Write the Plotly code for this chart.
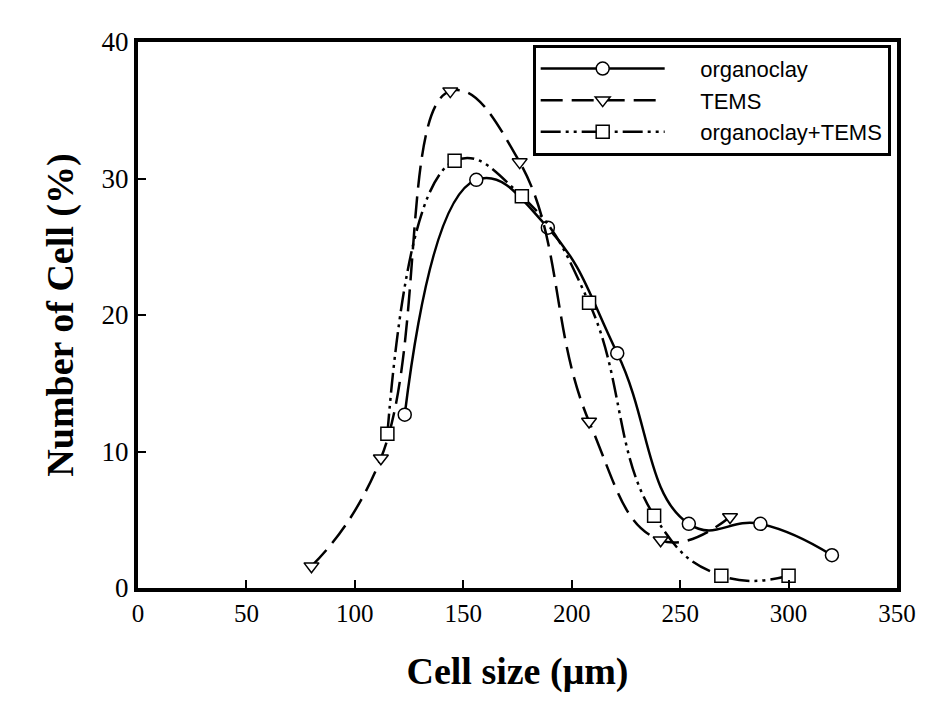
import plotly.graph_objects as go

# organoclay
oc_x = [123, 156, 189, 221, 254, 287, 320]
oc_y = [12.7, 29.9, 26.4, 17.2, 4.7, 4.7, 2.4]
# TEMS
tems_x = [80, 112, 144, 176, 208, 241, 273]
tems_y = [1.6, 9.5, 36.4, 31.2, 12.2, 3.5, 5.2]
# organoclay+TEMS
oct_x = [115, 146, 177, 208, 238, 269, 300]
oct_y = [11.3, 31.3, 28.7, 20.9, 5.3, 0.9, 0.9]

x_ticks = [0, 50, 100, 150, 200, 250, 300, 350]
y_ticks = [0, 10, 20, 30, 40]

names = ["organoclay", "TEMS", "organoclay+TEMS"]
pad = "\u00a0" * 5

marker_common = dict(color="white", size=13, line=dict(color="black", width=1.5))

fig = go.Figure()
fig.add_trace(go.Scatter(
    x=oc_x, y=oc_y, name=pad + names[0], mode="lines+markers",
    line=dict(color="black", width=2.5, shape="spline", smoothing=1.3),
    marker=dict(symbol="circle", **marker_common)))
fig.add_trace(go.Scatter(
    x=tems_x, y=tems_y, name=pad + names[1], mode="lines+markers",
    line=dict(color="black", width=2.5, shape="spline", smoothing=1.3, dash="22px,9px"),
    marker=dict(symbol="triangle-down", **marker_common)))
fig.add_trace(go.Scatter(
    x=oct_x, y=oct_y, name=pad + names[2], mode="lines+markers",
    line=dict(color="black", width=2.5, shape="spline", smoothing=1.3,
              dash="20px,5px,3px,5px,3px,5px"),
    marker=dict(symbol="square", **marker_common)))

axis_common = dict(
    showline=True, linecolor="black", linewidth=4, mirror=True,
    ticks="inside", ticklen=8, tickwidth=2, tickcolor="black",
    showgrid=False, zeroline=False, automargin=False,
)

# page body has an 8px margin, so the figure is offset by (8, 8)
fig.update_layout(
    width=912, height=692,
    margin=dict(l=130, r=23, t=34, b=112),
    paper_bgcolor="white", plot_bgcolor="white",
    xaxis=dict(range=[0, 350], tickvals=x_ticks,
               tickfont=dict(family="Liberation Serif", size=25, color="black"),
               title=dict(text="Cell size (μm)", standoff=32,
                          font=dict(family="Liberation Serif", size=38, color="black",
                                    weight="bold")),
               **axis_common),
    yaxis=dict(range=[0, 40], tickvals=y_ticks,
               tickfont=dict(family="Liberation Serif", size=27, color="black"),
               title=dict(text="Number of Cell (%)", standoff=17,
                          font=dict(family="Liberation Serif", size=38, color="black",
                                    weight="bold")),
               **axis_common),
    legend=dict(x=0.52, y=0.995, xanchor="left", yanchor="top",
                bgcolor="white", bordercolor="black", borderwidth=3,
                itemwidth=124, tracegroupgap=0,
                font=dict(family="Liberation Sans", size=22, color="black")),
    showlegend=True,
)

fig.write_html("out.html")
